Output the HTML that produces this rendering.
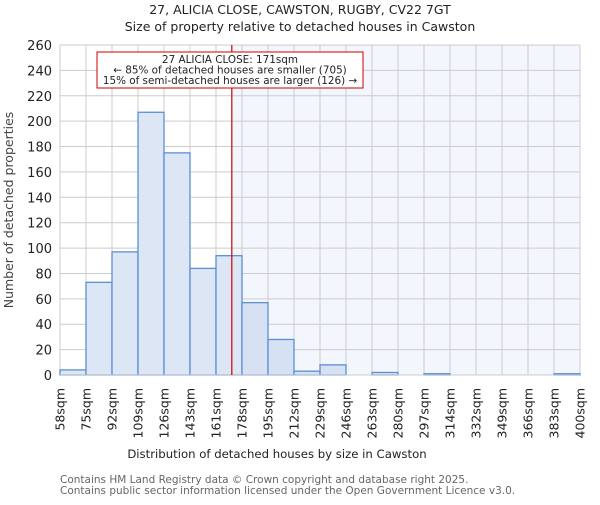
<!DOCTYPE html>
<html><head><meta charset="utf-8"><style>
body{margin:0;background:#fff}
svg{font-family:"DejaVu Sans","Liberation Sans",sans-serif}
</style></head><body>
<svg id="chart" width="600" height="500" xmlns="http://www.w3.org/2000/svg">
<text x="300" y="14" text-anchor="middle" font-size="12.5" fill="#222">27, ALICIA CLOSE, CAWSTON, RUGBY, CV22 7GT</text>
<text x="300" y="31" text-anchor="middle" font-size="12.5" fill="#222">Size of property relative to detached houses in Cawston</text>
<g id="plot"></g>
<text transform="translate(13,210) rotate(-90)" text-anchor="middle" font-size="12.5" fill="#444">Number of detached properties</text>
<text x="277" y="458" text-anchor="middle" font-size="11.7" fill="#222">Distribution of detached houses by size in Cawston</text>
<text x="60" y="483" font-size="10.5" fill="#666">Contains HM Land Registry data © Crown copyright and database right 2025.</text>
<text x="60" y="494" font-size="10.5" fill="#666">Contains public sector information licensed under the Open Government Licence v3.0.</text>
</svg>
<script>
const binLabels=["58sqm","75sqm","92sqm","109sqm","126sqm","143sqm","161sqm","178sqm","195sqm","212sqm","229sqm","246sqm","263sqm","280sqm","297sqm","314sqm","332sqm","349sqm","366sqm","383sqm","400sqm"];
const counts=[4,73,97,207,175,84,94,57,28,3,8,0,2,0,1,0,0,0,0,1];
const yTicks=[0,20,40,60,80,100,120,140,160,180,200,220,240,260];
const xMin=58,xMax=400,markerValue=171;
const L=60,R=580,T=45,B=375,yMax=260;
const ns="http://www.w3.org/2000/svg";
const g=document.getElementById('plot');
const xs=v=>L+(v-xMin)/(xMax-xMin)*(R-L);
const ys=v=>B-v/yMax*(B-T);
const bw=(R-L)/counts.length;
function mk(t,a,p){const e=document.createElementNS(ns,t);for(const k in a)e.setAttribute(k,a[k]);(p||g).appendChild(e);return e;}
let e=mk('rect',{x:xs(markerValue),y:T,width:R-xs(markerValue),height:B-T,fill:'#f3f6fd'});


yTicks.forEach(v=>{
 let l=mk('line',{x1:L,x2:R,y1:ys(v),y2:ys(v),stroke:'#ccc','stroke-width':1});
 
 
 let t=mk('text',{x:L-8,y:ys(v)+5,'text-anchor':'end','font-size':'13',fill:'#222'});
 t.textContent=v;
 
 
});
binLabels.forEach((s,i)=>{
 const x=L+i*bw;
 let l=mk('line',{x1:x,x2:x,y1:T,y2:B,stroke:'#ccc','stroke-width':1});
 
 
 let t=mk('text',{transform:`translate(${x+4.5},388) rotate(-90)`,'text-anchor':'end','font-size':'12.5',fill:'#222'});
 t.textContent=s;
 
 
});
counts.forEach((c,i)=>{
 if(c<=0)return;
 let r=mk('rect',{x:L+i*bw,y:ys(c),width:bw,height:B-ys(c),fill:xs(xMin+(i+0.5)*(xMax-xMin)/counts.length)>xs(markerValue)?'#d6e2f3':'#dce6f4',stroke:'#5b8fd6','stroke-width':1.3});
 
 
});
e=mk('line',{x1:L,x2:R,y1:B,y2:B,stroke:'#ccc'});


e=mk('line',{x1:xs(markerValue),x2:xs(markerValue),y1:T,y2:B,stroke:'#cc0000','stroke-width':1.2});


e=mk('rect',{x:97,y:52,width:266,height:36,fill:'#fff',stroke:'#cc0000','stroke-width':1});


["27 ALICIA CLOSE: 171sqm","← 85% of detached houses are smaller (705)","15% of semi-detached houses are larger (126) →"].forEach((s,i)=>{
 let t=mk('text',{x:230,y:63+i*10.5,'text-anchor':'middle','font-size':'10.4',fill:'#222'});
 t.textContent=s;
 
 
});
</script>
</body></html>
